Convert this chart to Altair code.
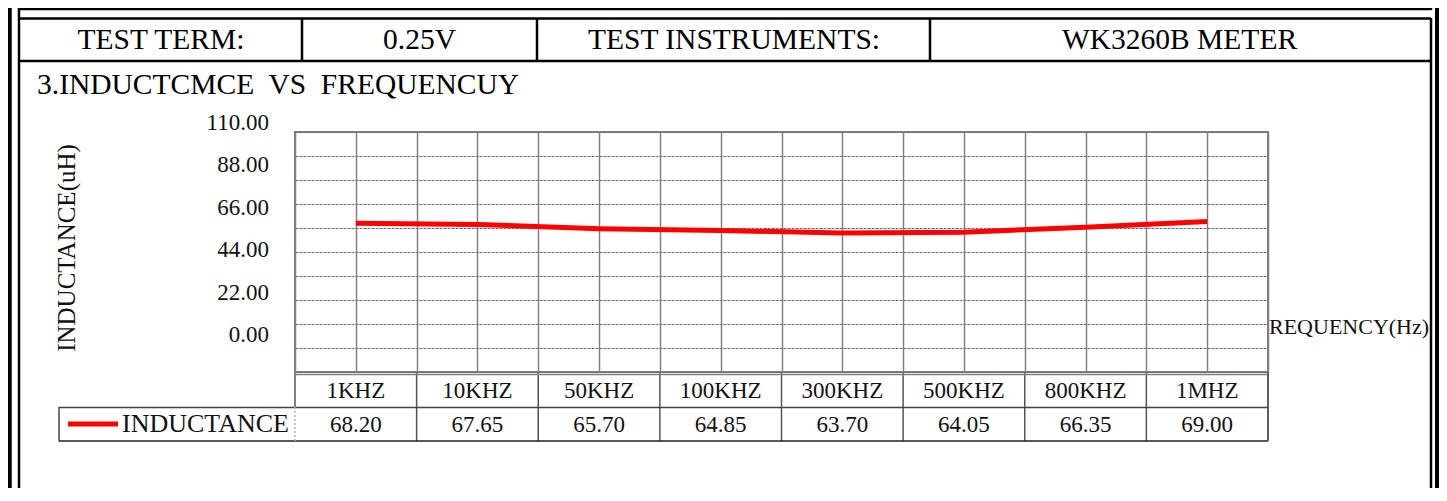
import altair as alt
import pandas as pd

# ---------------- data ----------------
freqs = ["1KHZ", "10KHZ", "50KHZ", "100KHZ", "300KHZ", "500KHZ", "800KHZ", "1MHZ"]
inductance = [68.20, 67.65, 65.70, 64.85, 63.70, 64.05, 66.35, 69.00]
y_tick_values = [0, 22, 44, 66, 88, 110]
y_tick_labels = ["0.00", "22.00", "44.00", "66.00", "88.00", "110.00"]
header_cells = ["TEST TERM:", "0.25V", "TEST INSTRUMENTS:", "WK3260B METER"]
title_text = "3.INDUCTCMCE\u00a0 VS\u00a0 FREQUENCUY"
y_title = "INDUCTANCE(uH)"
x_title = "REQUENCY(Hz)"
series_name = "INDUCTANCE"

# ---------------- layout (page pixels) ----------------
PX0, PY0 = 295, 132          # plot area origin on the page
W, H = 973, 240              # plot area size
SVG_W, SVG_H = 1431, 480     # whole chart, so the page does not overflow
FONT = "Liberation Serif"


def vx(px):
    return px - PX0


def vy(py):
    return py - PY0


df = pd.DataFrame({"idx": list(range(len(freqs))), "freq": freqs, "value": inductance})
df_ticks = pd.DataFrame({"v": y_tick_values, "label": y_tick_labels})
df_bounds = pd.DataFrame({"bound": [k - 0.5 for k in range(1, len(freqs) + 1)]})

x_scale = alt.Scale(domain=[-0.5, len(freqs) - 0.5], nice=False, zero=False)
x_axis = alt.Axis(values=[i / 2 for i in range(-1, 2 * len(freqs))], grid=True,
                  gridColor="#808080", gridWidth=1.5, labels=False, ticks=False,
                  domain=False, title=None)
y_axis = alt.Axis(values=[11 * i for i in range(11)], grid=True, gridColor="#6e6e6e",
                  gridWidth=1, gridDash=[3, 1], labels=False, ticks=False,
                  domain=False, title=None)

line = alt.Chart(df).mark_line(color="#FF0000", strokeWidth=5, strokeCap="butt").encode(
    x=alt.X("idx:Q", scale=x_scale, axis=x_axis),
    y=alt.Y("value:Q", scale=alt.Scale(domain=[0, 110], nice=False, zero=False), axis=y_axis),
)

tick_text = alt.Chart(df_ticks).mark_text(
    align="right", baseline="middle", font=FONT, fontSize=23, color="#111"
).encode(
    x=alt.value(vx(269)),
    y=alt.Y("v:Q", scale=alt.Scale(domain=[-19.2, 105.3], nice=False, zero=False), axis=None),
    text="label:N",
)

cat_text = alt.Chart(df).mark_text(
    align="center", baseline="middle", font=FONT, fontSize=23, color="#111"
).encode(
    x=alt.X("idx:Q", scale=x_scale, axis=x_axis),
    y=alt.value(vy(391)),
    text="freq:N",
)

val_text = alt.Chart(df).mark_text(
    align="center", baseline="middle", font=FONT, fontSize=23, color="#111"
).encode(
    x=alt.X("idx:Q", scale=x_scale, axis=x_axis),
    y=alt.value(vy(425)),
    text=alt.Text("value:Q", format=".2f"),
)

bound_rules = alt.Chart(df_bounds).mark_rule(color="#555", strokeWidth=1.5).encode(
    x=alt.X("bound:Q", scale=x_scale, axis=x_axis),
    y=alt.value(vy(373)),
    y2=alt.value(vy(441)),
)

# frame / table segments (page coords): x, x2, y, y2, width, colour
segs = [
    (9.5, 9.5, 0, 501, 4.5, "#000"),
    (19, 19, 0, 501, 2.5, "#000"),
    (19, 1431, 9, 9, 2.5, "#000"),
    (1431, 1431, 0, 10, 2.5, "#000"),
    (1431, 1431, 18, 501, 2.5, "#000"),
    (1437, 1437, 0, 501, 4, "#000"),
    (19, 1431, 18.5, 18.5, 2.5, "#000"),
    (19, 1431, 61, 61, 2.5, "#000"),
    (302, 302, 18, 61, 2.5, "#000"),
    (537, 537, 18, 61, 2.5, "#000"),
    (930, 930, 18, 61, 2.5, "#000"),
    (295, 1268, 374.5, 374.5, 1.5, "#808080"),
    (59, 1268, 407.5, 407.5, 1.5, "#444"),
    (59, 1268, 441, 441, 1.5, "#222"),
    (59, 59, 407, 441.5, 1.5, "#444"),
    (295, 295, 372, 407, 2, "#808080"),
    (1268, 1268, 372, 441, 1.5, "#555"),
    (68, 118, 424, 424, 5, "#FF0000"),
]
df_segs = pd.DataFrame(
    [{"x": vx(a), "x2": vx(b), "y": vy(c), "y2": vy(d), "w": w, "c": col}
     for a, b, c, d, w, col in segs]
)
frame = alt.Chart(df_segs).mark_rule().encode(
    x=alt.X("x:Q", scale=None, axis=None), x2="x2:Q",
    y=alt.Y("y:Q", scale=None, axis=None), y2="y2:Q",
    strokeWidth=alt.StrokeWidth("w:Q", scale=None, legend=None),
    color=alt.Color("c:N", scale=None, legend=None),
)
dashed = alt.Chart(pd.DataFrame({"x": [vx(295)], "y": [vy(407)], "y2": [vy(441)]})).mark_rule(
    color="#b0b0b0", strokeWidth=1.5, strokeDash=[2, 2]
).encode(
    x=alt.X("x:Q", scale=None, axis=None),
    y=alt.Y("y:Q", scale=None, axis=None), y2="y2:Q",
)

df_header = pd.DataFrame({"t": header_cells, "x": [vx(161), vx(419.5), vx(734), vx(1179.5)]})
header = alt.Chart(df_header).mark_text(
    align="center", baseline="middle", font=FONT, fontSize=29.5, color="#000"
).encode(
    x=alt.X("x:Q", scale=None, axis=None), y=alt.value(vy(40)), text="t:N"
)

title = alt.Chart(pd.DataFrame({"t": [title_text]})).mark_text(
    align="left", baseline="middle", font=FONT, fontSize=29.5, color="#000"
).encode(x=alt.value(vx(37)), y=alt.value(vy(85)), text="t:N")

ytitle = alt.Chart(pd.DataFrame({"t": [y_title]})).mark_text(
    align="center", baseline="middle", font=FONT, fontSize=25, angle=270, color="#111"
).encode(x=alt.value(vx(67)), y=alt.value(vy(248)), text="t:N")

xtitle = alt.Chart(pd.DataFrame({"t": [x_title]})).mark_text(
    align="left", baseline="middle", font=FONT, fontSize=22, color="#111"
).encode(x=alt.value(vx(1269)), y=alt.value(vy(327)), text="t:N")

legend_text = alt.Chart(pd.DataFrame({"t": [series_name]})).mark_text(
    align="left", baseline="middle", font=FONT, fontSize=26, color="#111"
).encode(x=alt.value(vx(122)), y=alt.value(vy(424)), text="t:N")

chart = alt.layer(
    line, tick_text, bound_rules, cat_text, val_text, frame, dashed,
    header, title, ytitle, xtitle, legend_text,
).resolve_scale(y="independent").properties(
    width=W, height=H,
    autosize=alt.AutoSizeParams(type="none"),
    padding={"left": PX0 - 8, "top": PY0 - 8,
             "right": SVG_W - (PX0 - 8) - W, "bottom": SVG_H - (PY0 - 8) - H},
    background="white",
).configure_view(stroke="#808080", strokeWidth=2)

chart.save("out.html", embed_options={"renderer": "svg", "actions": False})
